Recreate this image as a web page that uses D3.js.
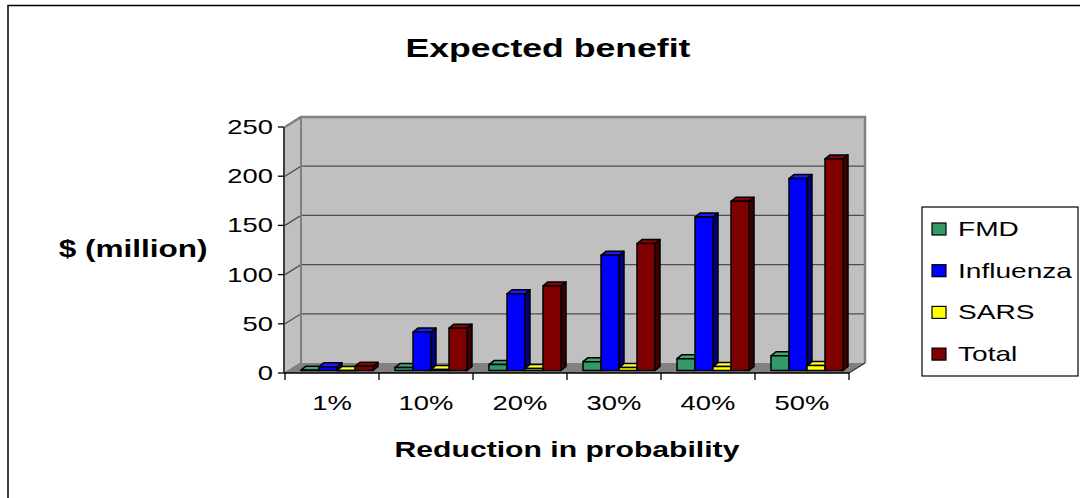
<!DOCTYPE html>
<html>
<head>
<meta charset="utf-8">
<script src="https://cdn.jsdelivr.net/npm/d3@7"></script>
<style>
  html, body { margin: 0; padding: 0; background: #fff; }
  svg { display: block; font-family: Arial, "Liberation Sans", sans-serif; }
</style>
</head>
<body>
<svg id="chart" width="1080" height="498"></svg>
<script>
// Expected benefit by reduction in probability, $ million
const categories = ["1%", "10%", "20%", "30%", "40%", "50%"];
const seriesNames = ["FMD", "Influenza", "SARS", "Total"];
const fmd       = [0.3, 3, 6, 9, 12, 15];
const influenza = [3.9, 39, 78, 117, 156, 195];
const sars      = [0.1, 1, 2, 3, 4, 5];
const total     = [4.3, 43, 86, 129, 172, 215];
const yTicks    = [0, 50, 100, 150, 200, 250];

const seriesValues = [fmd, influenza, sars, total];
const faceColors = {
  FMD:       { front: "#339966", top: "#3fa673", side: "#1a4d33" },
  Influenza: { front: "#0000ff", top: "#1a1aff", side: "#000080" },
  SARS:      { front: "#ffff00", top: "#ffff33", side: "#808000" },
  Total:     { front: "#800000", top: "#8c0000", side: "#400000" }
};

const svg = d3.select("#chart");
const SX = 1.37; // horizontal text stretch

// plot frame (front plane)
const left = 285, right = 849, bottom = 373, topY = 127;
const depth = { dx: 16, dy: -10 };        // floor / wall depth
const barFront = { dx: 4, dy: -2.5 };     // bar front face offset into depth
const barDepth = { dx: 5, dy: -4 };       // bar thickness in depth

const x = d3.scaleBand().domain(categories).range([left, right]);
const xs = d3.scaleBand().domain(seriesNames).range([12, 84]);
const y = d3.scaleLinear().domain([0, 250]).range([bottom, topY]);

function stretchedText(g, tx, ty, txt, opts) {
  const grp = g.append("g").attr("transform", `translate(${tx},${ty}) scale(${SX},1)`);
  return grp.append("text")
    .attr("x", 0).attr("y", 0)
    .attr("text-anchor", opts.anchor || "middle")
    .attr("font-size", opts.size)
    .attr("font-weight", opts.weight || "normal")
    .attr("fill", "#000")
    .text(txt);
}

// outer chart frame
svg.append("path")
  .attr("d", "M8,500 V5.5 H1082")
  .attr("fill", "none").attr("stroke", "#000").attr("stroke-width", 1.5);

// title
stretchedText(svg, 548, 57, "Expected benefit", { size: 26, weight: "bold" });

// walls
const wallL = left + depth.dx, wallB = bottom + depth.dy, wallT = topY + depth.dy;
const wallR = right + depth.dx;
svg.append("polygon")
  .attr("points", [[left, topY], [wallL, wallT], [wallL, wallB], [left, bottom]].join(" "))
  .attr("fill", "#c0c0c0");
svg.append("rect")
  .attr("x", wallL).attr("y", wallT)
  .attr("width", wallR - wallL).attr("height", wallB - wallT)
  .attr("fill", "#c0c0c0");
// floor
svg.append("polygon")
  .attr("points", [[left, bottom], [right, bottom], [wallR, wallB], [wallL, wallB]].join(" "))
  .attr("fill", "#808080");

// gridlines on back wall plus connectors across the side wall
const grid = svg.append("g");
yTicks.slice(1).forEach(t => {
  const yy = y(t);
  grid.append("path")
    .attr("d", `M${left},${yy} L${wallL},${yy + depth.dy} H${wallR}`)
    .attr("fill", "none").attr("stroke", "#4d4d4d").attr("stroke-width", 1.3);
});
// wall edges
svg.append("path")
  .attr("d", `M${left},${topY} L${wallL},${wallT} H${wallR} V${wallB}`)
  .attr("fill", "none").attr("stroke", "#808080").attr("stroke-width", 2.5);
svg.append("path")
  .attr("d", `M${wallL},${wallT} V${wallB} L${left},${bottom}`)
  .attr("fill", "none").attr("stroke", "#808080").attr("stroke-width", 2);
svg.append("path")
  .attr("d", `M${right},${bottom} L${wallR},${wallB}`)
  .attr("fill", "none").attr("stroke", "#333").attr("stroke-width", 1.2);

// bars
const bars = svg.append("g");
categories.forEach((c, i) => {
  seriesNames.forEach((s, j) => {
    const v = seriesValues[j][i];
    const col = faceColors[s];
    const x0 = x(c) + xs(s) + barFront.dx;
    const w = xs.bandwidth();
    const y0 = y(0) + barFront.dy;
    const y1 = y(v) + barFront.dy;
    const g = bars.append("g").attr("stroke", "#000").attr("stroke-width", 1.5).attr("stroke-linejoin", "round");
    // side face
    g.append("polygon")
      .attr("points", [[x0 + w, y1], [x0 + w + barDepth.dx, y1 + barDepth.dy], [x0 + w + barDepth.dx, y0 + barDepth.dy], [x0 + w, y0]].join(" "))
      .attr("fill", col.side);
    // top face
    g.append("polygon")
      .attr("points", [[x0, y1], [x0 + barDepth.dx, y1 + barDepth.dy], [x0 + w + barDepth.dx, y1 + barDepth.dy], [x0 + w, y1]].join(" "))
      .attr("fill", col.top);
    // front face
    g.append("rect")
      .attr("x", x0).attr("y", y1)
      .attr("width", w).attr("height", Math.max(0, y0 - y1))
      .attr("fill", col.front);
  });
});

// y axis
const yAxisG = svg.append("g");
yAxisG.append("line")
  .attr("x1", left - 1).attr("x2", left - 1).attr("y1", topY).attr("y2", bottom)
  .attr("stroke", "#000").attr("stroke-width", 1.5);
yTicks.forEach(t => {
  yAxisG.append("line")
    .attr("x1", left - 7).attr("x2", left - 1).attr("y1", y(t)).attr("y2", y(t))
    .attr("stroke", "#000").attr("stroke-width", 1.3);
  stretchedText(yAxisG, left - 12, y(t) + 7, d3.format("d")(t), { size: 20, anchor: "end" });
});

// x axis
const xAxisG = svg.append("g");
xAxisG.append("line")
  .attr("x1", left - 1).attr("x2", right).attr("y1", bottom).attr("y2", bottom)
  .attr("stroke", "#000").attr("stroke-width", 1.5);
[...categories.map(c => x(c)), right].forEach(xx => {
  xAxisG.append("line")
    .attr("x1", xx).attr("x2", xx).attr("y1", bottom).attr("y2", bottom + 7)
    .attr("stroke", "#000").attr("stroke-width", 1.3);
});
categories.forEach(c => {
  stretchedText(xAxisG, x(c) + x.bandwidth() / 2, 410, c, { size: 20 });
});

// axis titles
stretchedText(svg, 133, 257, "$ (million)", { size: 23, weight: "bold" });
stretchedText(svg, 567, 457, "Reduction in probability", { size: 22, weight: "bold" });

// legend
const legend = svg.append("g");
legend.append("rect")
  .attr("x", 922).attr("y", 207).attr("width", 156).attr("height", 169)
  .attr("fill", "#fff").attr("stroke", "#000").attr("stroke-width", 1.2);
seriesNames.forEach((s, j) => {
  const cy = 229 + j * 41.7;
  legend.append("rect")
    .attr("x", 932).attr("y", cy - 6).attr("width", 14).attr("height", 12)
    .attr("fill", faceColors[s].front).attr("stroke", "#000").attr("stroke-width", 1.2);
  stretchedText(legend, 958, cy + 7, s, { size: 20.5, anchor: "start" });
});
</script>
</body>
</html>
